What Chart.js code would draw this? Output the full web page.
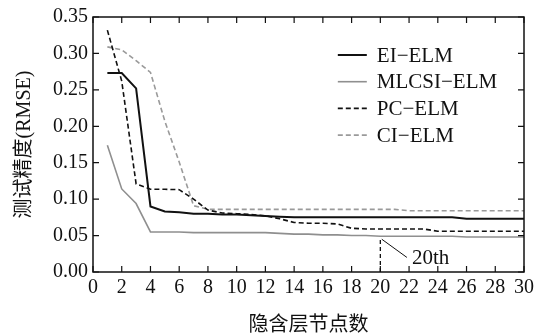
<!DOCTYPE html>
<html>
<head>
<meta charset="utf-8">
<script src="https://cdn.jsdelivr.net/npm/chart.js@4.4.1/dist/chart.umd.min.js"></script>
<style>
html,body{margin:0;padding:0;background:#fff;}
#wrap{width:540px;height:334px;position:relative;}
</style>
</head>
<body>
<div id="wrap"><canvas id="c" width="540" height="334"></canvas></div>
<script>
// Hidden-layer node counts (x values)
const nodes = [1,2,3,4,5,6,7,8,9,10,11,12,13,14,15,16,17,18,19,20,21,22,23,24,25,26,27,28,29,30];
// Test RMSE per method
const eiElm    = [0.273,0.273,0.252,0.090,0.083,0.082,0.080,0.080,0.079,0.079,0.078,0.077,0.076,0.075,0.075,0.075,0.075,0.075,0.075,0.075,0.075,0.075,0.075,0.075,0.075,0.073,0.073,0.073,0.073,0.073];
const mlcsiElm = [0.174,0.114,0.094,0.055,0.055,0.055,0.054,0.054,0.054,0.054,0.054,0.054,0.053,0.052,0.052,0.051,0.051,0.050,0.050,0.049,0.049,0.049,0.049,0.049,0.049,0.048,0.048,0.048,0.048,0.048];
const pcElm    = [0.332,0.262,0.121,0.1135,0.1135,0.113,0.100,0.085,0.081,0.080,0.079,0.077,0.073,0.068,0.067,0.067,0.066,0.060,0.059,0.059,0.059,0.059,0.059,0.056,0.056,0.056,0.056,0.056,0.056,0.056];
const ciElm    = [0.309,0.305,0.290,0.274,0.207,0.151,0.091,0.086,0.086,0.086,0.086,0.086,0.086,0.086,0.086,0.086,0.086,0.086,0.086,0.086,0.086,0.084,0.084,0.084,0.084,0.084,0.084,0.084,0.084,0.084];
const seriesNames = ['EI\u2212ELM','MLCSI\u2212ELM','PC\u2212ELM','CI\u2212ELM'];
// Axis ticks
const xTicks = [0,2,4,6,8,10,12,14,16,18,20,22,24,26,28,30];
const yTicks = [0.00,0.05,0.10,0.15,0.20,0.25,0.30,0.35];
// Annotation: 20th node on MLCSI-ELM
const markNode = 20;
const markLabel = '20th';

const toXY = arr => nodes.map((n,i)=>({x:n,y:arr[i]}));
const serif = '"Liberation Serif","Times New Roman",serif';
const mixed = '"Liberation Serif","Noto Sans CJK SC",serif';

const datasets = [
  {label:seriesNames[0], data:toXY(eiElm), borderColor:'#111', borderWidth:2, borderDash:[]},
  {label:seriesNames[1], data:toXY(mlcsiElm), borderColor:'#8f8f8f', borderWidth:1.6, borderDash:[]},
  {label:seriesNames[2], data:toXY(pcElm), borderColor:'#111', borderWidth:1.6, borderDash:[5,3]},
  {label:seriesNames[3], data:toXY(ciElm), borderColor:'#9a9a9a', borderWidth:1.6, borderDash:[5,3]}
].map(d=>Object.assign(d,{pointRadius:0,fill:false,tension:0}));

const framePlugin = {
  id:'frame',
  afterDatasetsDraw(chart){
    const {ctx, chartArea:a, scales:{x,y}} = chart;
    ctx.save();
    // annotation
    const idx = nodes.indexOf(markNode);
    const mv = mlcsiElm[idx];
    const px = x.getPixelForValue(markNode);
    const py = y.getPixelForValue(mv);
    ctx.strokeStyle='#111'; ctx.lineWidth=1.3;
    ctx.setLineDash([4,3]);
    ctx.beginPath(); ctx.moveTo(px, a.bottom); ctx.lineTo(px, py+2); ctx.stroke();
    ctx.setLineDash([]);
    ctx.lineWidth=1;
    ctx.beginPath();
    ctx.moveTo(x.getPixelForValue(markNode+0.1), y.getPixelForValue(mv-0.004));
    ctx.lineTo(x.getPixelForValue(markNode+1.85), y.getPixelForValue(mv-0.029));
    ctx.stroke();
    ctx.fillStyle='#111';
    ctx.font='21px '+serif;
    ctx.textAlign='left'; ctx.textBaseline='middle';
    ctx.fillText(markLabel, x.getPixelForValue(markNode+2.2), y.getPixelForValue(mv-0.031));

    // frame
    ctx.strokeStyle='#111'; ctx.lineWidth=1.5;
    ctx.strokeRect(a.left, a.top, a.right-a.left, a.bottom-a.top);
    // inward ticks
    ctx.lineWidth=1.2;
    const tl=6;
    xTicks.forEach(v=>{
      const p=x.getPixelForValue(v);
      ctx.beginPath();
      ctx.moveTo(p,a.bottom); ctx.lineTo(p,a.bottom-tl);
      ctx.moveTo(p,a.top); ctx.lineTo(p,a.top+tl);
      ctx.stroke();
    });
    yTicks.forEach(v=>{
      const p=y.getPixelForValue(v);
      ctx.beginPath();
      ctx.moveTo(a.left,p); ctx.lineTo(a.left+tl,p);
      ctx.moveTo(a.right,p); ctx.lineTo(a.right-tl,p);
      ctx.stroke();
    });

    // legend
    const lx0 = a.left + (a.right-a.left)*0.568;
    const rowH = 26.7;
    const y0 = a.top + 38;
    ctx.font='21px '+serif;
    chart.data.datasets.forEach((d,i)=>{
      const yy = y0 + i*rowH;
      ctx.strokeStyle=d.borderColor; ctx.lineWidth=d.borderWidth;
      ctx.setLineDash(d.borderDash||[]);
      ctx.beginPath(); ctx.moveTo(lx0,yy); ctx.lineTo(lx0+29,yy); ctx.stroke();
      ctx.setLineDash([]);
      ctx.fillStyle='#111';
      ctx.fillText(d.label, lx0+39, yy+1);
    });
    ctx.restore();
  }
};

new Chart(document.getElementById('c'),{
  type:'line',
  data:{datasets},
  options:{
    responsive:false, animation:false,
    layout:{padding:{top:17,right:16,left:0,bottom:0}},
    plugins:{legend:{display:false},tooltip:{enabled:false}},
    scales:{
      x:{type:'linear',min:0,max:30,
        afterBuildTicks(s){s.ticks=xTicks.map(v=>({value:v}));},
        afterFit(s){s.height=62;},
        grid:{display:false,drawTicks:false},
        border:{display:false},
        ticks:{color:'#111',font:{family:serif,size:20,lineHeight:1},padding:6,maxRotation:0,autoSkip:false},
        title:{display:true,text:'隐含层节点数',color:'#111',font:{family:mixed,size:20,lineHeight:0.8},padding:{bottom:0,top:0}}
      },
      y:{type:'linear',min:0,max:0.35,
        afterBuildTicks(s){s.ticks=yTicks.map(v=>({value:v}));},
        afterFit(s){s.width=93;},
        grid:{display:false,drawTicks:false},
        border:{display:false},
        ticks:{color:'#111',font:{family:serif,size:20},padding:5,callback:v=>Number(v).toFixed(2)},
        title:{display:true,text:'测试精度(RMSE)',color:'#111',font:{family:mixed,size:20},padding:{top:13,bottom:0}}
      }
    }
  },
  plugins:[framePlugin]
});
</script>
</body>
</html>
